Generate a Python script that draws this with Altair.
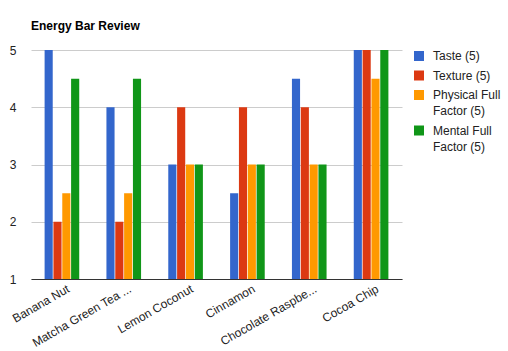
import altair as alt
import pandas as pd

categories = ["Banana Nut", "Matcha Green Tea ...", "Lemon Coconut", "Cinnamon",
              "Chocolate Raspbe...", "Cocoa Chip"]
series = ["Taste (5)", "Texture (5)", "Physical Full|Factor (5)", "Mental Full|Factor (5)"]
taste = [5, 4, 3, 2.5, 4.5, 5]
texture = [2, 2, 4, 4, 4, 5]
physical = [2.5, 2.5, 3, 3, 3, 4.5]
mental = [4.5, 4.5, 3, 3, 3, 5]
colors = ["#3366cc", "#dc3912", "#ff9900", "#109618"]

rows = []
for s, vals in zip(series, [taste, texture, physical, mental]):
    for c, v in zip(categories, vals):
        rows.append({"bar": c, "series": s, "value": v})
df = pd.DataFrame(rows)

FONT = "Liberation Sans"

chart = alt.Chart(df).mark_bar(clip=True).encode(
    x=alt.X("bar:N", sort=categories, title=None,
            scale=alt.Scale(paddingInner=0.44, paddingOuter=0.22),
            axis=alt.Axis(labelAngle=-30, labelAlign="right", labelBaseline="top",
                          labelFontSize=12, labelColor="#222", labelPadding=4,
                          labelOffset=4,
                          ticks=False, domainColor="#333", labelLimit=200,
                          labelFont=FONT)),
    xOffset=alt.XOffset("series:N", sort=series,
                        scale=alt.Scale(paddingInner=0.08)),
    y=alt.Y("value:Q", title=None,
            scale=alt.Scale(domain=[1, 5], nice=False, zero=False),
            axis=alt.Axis(values=[1, 2, 3, 4, 5], ticks=False, domain=False,
                          gridColor="#cccccc", labelFontSize=12, labelColor="#222",
                          labelPadding=15, labelFont=FONT)),
    y2=alt.datum(1),
    color=alt.Color("series:N", sort=series,
                    scale=alt.Scale(domain=series, range=colors),
                    legend=alt.Legend(title=None, orient="none", legendX=382, legendY=-5,
                                      symbolType="M-1,0L1,0L1,2L-1,2Z", symbolSize=100,
                                      symbolStrokeWidth=0, labelFontSize=12,
                                      labelColor="#222", labelFont=FONT,
                                      labelBaseline="top",
                                      labelExpr="split(datum.label, '|')",
                                      rowPadding=2.5, labelOffset=8)),
).properties(
    width=371, height=229,
    title=alt.TitleParams("Energy Bar Review", anchor="start", fontSize=12,
                          fontWeight="bold", font=FONT, color="#000", offset=11,
                          frame="group"),
    autosize=alt.AutoSizeParams(type="none"),
    padding={"left": 31, "top": 50, "right": 106, "bottom": 72},
).configure(
    style={"guide-label": {"lineHeight": 16}}
).configure_view(stroke=None)

chart.save("out.html", embed_options={"renderer": "svg", "actions": False})
